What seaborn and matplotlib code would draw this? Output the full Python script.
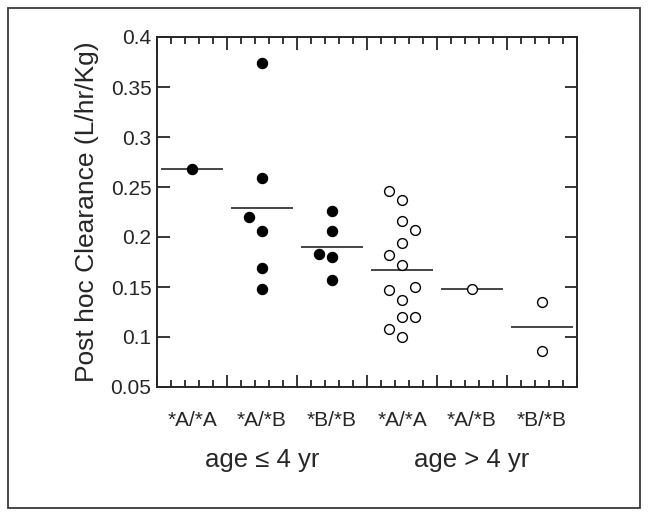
import numpy as np
import pandas as pd
import matplotlib
matplotlib.use("Agg")
import matplotlib.pyplot as plt
import matplotlib.transforms as mtransforms
from matplotlib.patches import Rectangle
from matplotlib.ticker import FixedLocator, NullFormatter
import seaborn as sns

# genotype groups, first three are age <= 4 yr, last three age > 4 yr
genotypes = ["*A/*A", "*A/*B", "*B/*B", "*A/*A", "*A/*B", "*B/*B"]
age_groups = ["age \u2264 4 yr", "age > 4 yr"]

# y axis ticks
y_ticks = [0.05, 0.1, 0.15, 0.2, 0.25, 0.3, 0.35, 0.4]
y_tick_labels = ["0.05", "0.1", "0.15", "0.2", "0.25", "0.3", "0.35", "0.4"]

# post hoc clearance (L/hr/Kg)
cl_young_aa = [0.268]
cl_young_ab = [0.374, 0.259, 0.220, 0.206, 0.169, 0.148]
cl_young_bb = [0.226, 0.206, 0.183, 0.180, 0.157]
cl_old_aa = [0.246, 0.237, 0.216, 0.207, 0.194, 0.182, 0.172,
             0.147, 0.150, 0.137, 0.120, 0.120, 0.108, 0.100]
cl_old_ab = [0.148]
cl_old_bb = [0.135, 0.086]

# column of each dot inside its group (-1 left, 0 middle, 1 right)
col_young_aa = [0]
col_young_ab = [0, 0, -1, 0, 0, 0]
col_young_bb = [0, 0, -1, 0, 0]
col_old_aa = [-1, 0, 0, 1, 0, -1, 0, -1, 1, 0, 0, 1, -1, 0]
col_old_ab = [0]
col_old_bb = [0, 0]

values = [cl_young_aa, cl_young_ab, cl_young_bb, cl_old_aa, cl_old_ab, cl_old_bb]
columns = [col_young_aa, col_young_ab, col_young_bb, col_old_aa, col_old_ab, col_old_bb]

rows = []
for g, (vals, cols) in enumerate(zip(values, columns)):
    for v, c in zip(vals, cols):
        rows.append({"group": g, "col": c, "clearance": v,
                     "age": age_groups[0] if g < 3 else age_groups[1]})
df = pd.DataFrame(rows)
df["x"] = df["group"] + 0.19 * df["col"]

sns.set_style("white")
plt.rcParams["font.family"] = ["Liberation Sans", "DejaVu Sans"]

ink = "#262626"
fig = plt.figure(figsize=(6.49, 5.17), dpi=100)
ax = fig.add_axes([157 / 649, 1 - 387 / 517, 420 / 649, 350 / 517])

young = df[df["age"] == age_groups[0]]
old = df[df["age"] == age_groups[1]]
sns.scatterplot(data=young, x="x", y="clearance", ax=ax, s=55,
                color="black", edgecolor="black", linewidth=0.8, zorder=3)
sns.scatterplot(data=old, x="x", y="clearance", ax=ax, s=50,
                facecolor="white", edgecolor="black", linewidth=1.0, zorder=3)

# group means
means = df.groupby("group")["clearance"].mean()
ax.hlines(means.values, means.index - 0.44, means.index + 0.44,
          color=ink, lw=1.2, zorder=2)

ax.set_xlim(-0.5, 5.5)
ax.set_ylim(0.05, 0.4)
ax.yaxis.set_major_locator(FixedLocator(y_ticks))
ax.set_yticklabels(y_tick_labels)
ax.xaxis.set_major_locator(FixedLocator(np.arange(-0.5, 6.0, 1.0)))
ax.xaxis.set_minor_locator(FixedLocator(
    [g + d for g in range(6) for d in (-0.3, -0.1, 0.1, 0.3)]))
ax.xaxis.set_major_formatter(NullFormatter())
ax.tick_params(axis="both", which="both", direction="in", top=True, right=True,
               bottom=True, left=True, color=ink, width=1.3)
ax.tick_params(axis="x", which="major", length=9)
ax.tick_params(axis="x", which="minor", length=5)
ax.tick_params(axis="y", which="major", length=9, labelsize=15, pad=4,
               labelcolor=ink)
for sp in ax.spines.values():
    sp.set_color(ink)
    sp.set_linewidth(1.4)

ax.set_xlabel("")
ax.set_ylabel("Post hoc Clearance (L/hr/Kg)", fontsize=19, color=ink, labelpad=8)

trans = mtransforms.blended_transform_factory(ax.transData, ax.transAxes)
for i, name in enumerate(genotypes):
    ax.text(i, -0.095, name, transform=trans, ha="center", va="center",
            fontsize=15, color=ink)
ax.text(1, -0.208, age_groups[0], transform=trans, ha="center", va="center",
        fontsize=18.5, color=ink)
ax.text(4, -0.208, age_groups[1], transform=trans, ha="center", va="center",
        fontsize=18.5, color=ink)

# outer frame around the figure
fig.patches.append(Rectangle((7.5 / 649, 1 - 508 / 517), 632.5 / 649, 500.5 / 517,
                             transform=fig.transFigure, fill=False,
                             edgecolor="#3a3a3a", lw=1.3))

fig.savefig("out.png", dpi=100)
